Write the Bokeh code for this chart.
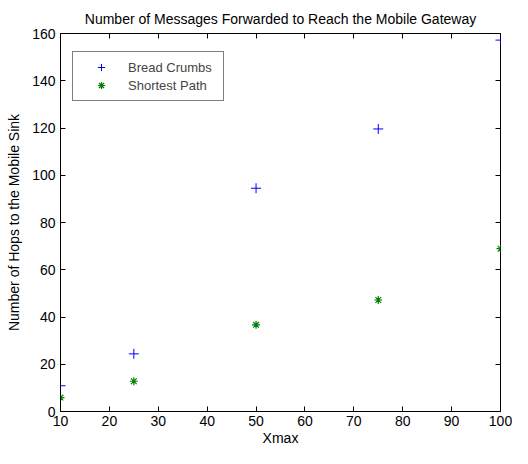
from bokeh.plotting import figure
from bokeh.models import LinearAxis, Legend, LegendItem, FixedTicker, Range1d
from bokeh.embed import file_html
from bokeh.resources import INLINE

xmax = [10, 25, 50, 75, 100]
bread_crumbs = [10.9, 24.4, 94.5, 119.6, 157.2]
shortest_path = [5.9, 12.8, 36.7, 47.2, 68.9]
x_ticks = [10, 20, 30, 40, 50, 60, 70, 80, 90, 100]
y_ticks = [0, 20, 40, 60, 80, 100, 120, 140, 160]

FONT = "Liberation Sans"

p = figure(width=512, height=448, output_backend="svg", toolbar_location=None,
           x_range=Range1d(10, 100), y_range=Range1d(0, 160),
           min_border_left=60, min_border_right=12, min_border_top=33, min_border_bottom=30)
p.background_fill_color = "white"
p.border_fill_color = "white"
p.grid.visible = False
p.outline_line_color = "black"
p.outline_line_width = 1
p.outline_line_alpha = 1

p.title.text = "Number of Messages Forwarded to Reach the Mobile Gateway"
p.title.align = "center"
p.title.vertical_align = "middle"
p.title.text_font = FONT
p.title.text_font_size = "14px"
p.title.text_font_style = "normal"
p.title.text_color = "black"
p.title.standoff = 12

def style(ax):
    ax.major_tick_in = 5
    ax.major_tick_out = 0
    ax.minor_tick_in = 0
    ax.minor_tick_out = 0
    ax.axis_line_color = "black"
    ax.major_tick_line_color = "black"
    ax.major_label_text_font = FONT
    ax.major_label_text_font_size = "14px"
    ax.major_label_text_color = "black"
    ax.axis_label_text_font = FONT
    ax.axis_label_text_font_size = "14px"
    ax.axis_label_text_font_style = "normal"
    ax.axis_label_text_color = "black"

xa = p.xaxis[0]
ya = p.yaxis[0]
xa.ticker = FixedTicker(ticks=x_ticks)
ya.ticker = FixedTicker(ticks=y_ticks)
style(xa)
style(ya)
xa.axis_label = "Xmax"
ya.axis_label = "Number of Hops to the Mobile Sink"
xa.major_label_standoff = 4
xa.axis_label_standoff = 1
ya.major_label_standoff = 5
ya.axis_label_standoff = 7

top = LinearAxis(ticker=FixedTicker(ticks=x_ticks),
                 major_label_overrides={t: "" for t in x_ticks})
right = LinearAxis(ticker=FixedTicker(ticks=y_ticks),
                   major_label_overrides={t: "" for t in y_ticks})
for ax in (top, right):
    style(ax)
    ax.major_label_standoff = 0
    ax.axis_line_color = None
p.add_layout(top, "above")
p.add_layout(right, "right")

r1 = p.scatter(xmax, bread_crumbs, marker="cross", size=10, line_color="#0000ff", line_width=1)
r2 = p.scatter(xmax, shortest_path, marker="asterisk", size=8, line_color="#008000", line_width=1.2)

legend = Legend(items=[LegendItem(label="Bread Crumbs", renderers=[r1]),
                       LegendItem(label="Shortest Path", renderers=[r2])],
                location=(12, 310), margin=0, padding=6, spacing=0,
                glyph_width=44, glyph_height=18, label_height=18, label_standoff=5,
                label_width=89,
                label_text_font=FONT, label_text_font_size="13px",
                border_line_color="black", border_line_width=1,
                background_fill_color="white", background_fill_alpha=1)
p.add_layout(legend, "center")

open("out.html", "w").write(file_html(p, INLINE))
